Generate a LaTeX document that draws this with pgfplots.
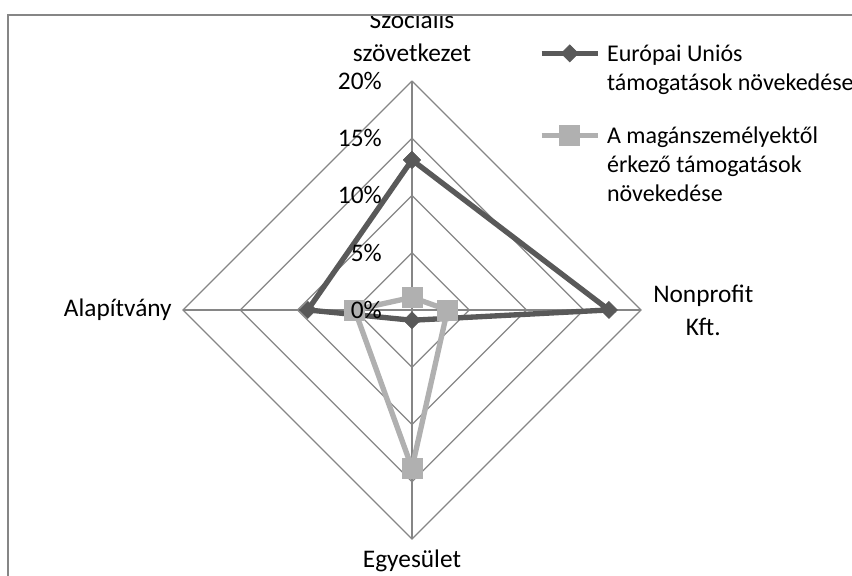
\documentclass[border=0pt]{standalone}
\usepackage{fontspec}
\setmainfont{Carlito}
\usepackage{pgfplots}
\pgfplotsset{compat=1.18}
\definecolor{gridgray}{HTML}{868686}
\definecolor{darkser}{HTML}{595959}
\definecolor{lightser}{HTML}{B0B0B0}
\begin{document}
\begin{tikzpicture}
\begin{axis}[
  x=8.5875pt, y=8.5875pt,
  xmin=-35.98, xmax=38.43, ymin=-23.23, ymax=27.07,
  hide axis, scale only axis, clip=false,
  legend style={at={(axis cs:11.1,23.4)}, anchor=north west, draw=none, fill=none,
    inner sep=0pt, outer sep=0pt, column sep=3pt, row sep=22pt,
    font=\fontsize{18}{21.75}\selectfont,
    cells={anchor=north west, align=left, inner sep=0pt}},
  legend image code/.code={\draw[mark repeat=2,mark phase=2,#1] plot coordinates {(0pt,-8.5pt)(21pt,-8.5pt)(42pt,-8.5pt)};},
]
% grid
\addplot[gridgray, line width=0.9pt, forget plot] coordinates {(0,5)(5,0)(0,-5)(-5,0)(0,5)};
\addplot[gridgray, line width=0.9pt, forget plot] coordinates {(0,10)(10,0)(0,-10)(-10,0)(0,10)};
\addplot[gridgray, line width=0.9pt, forget plot] coordinates {(0,15)(15,0)(0,-15)(-15,0)(0,15)};
\addplot[gridgray, line width=0.9pt, forget plot] coordinates {(0,20)(20,0)(0,-20)(-20,0)(0,20)};
\addplot[gridgray, line width=0.9pt, forget plot] coordinates {(0,-20)(0,20)};
\addplot[gridgray, line width=0.9pt, forget plot] coordinates {(-20,0)(20,0)};
% series
\addplot[darkser, line width=4pt, mark=square*, mark size=4.5pt,
  mark options={rotate=45, solid, line width=0.5pt}]
  coordinates {(0,13.1)(17.2,0)(0,-0.9)(-9.1,0)(0,13.1)};
\addlegendentry{Európai Uniós\\támogatások növekedése}
\addplot[lightser, line width=4pt, mark=square*, mark size=7.5pt,
  mark options={solid, line width=0.5pt}]
  coordinates {(0,1.1)(3.1,0)(0,-13.8)(-5.0,0)(0,1.1)};
\addlegendentry{A magánszemélyektől\\érkező támogatások\\növekedése}
% anchors for labels
\coordinate (t0) at (axis cs:-2.62,0);
\coordinate (t5) at (axis cs:-2.62,5);
\coordinate (t10) at (axis cs:-2.62,10);
\coordinate (t15) at (axis cs:-2.62,15);
\coordinate (t20) at (axis cs:-2.62,20);
\coordinate (ctop) at (axis cs:0,21.66);
\coordinate (cright) at (axis cs:21.05,0);
\coordinate (cleft) at (axis cs:-20.96,0);
\coordinate (cbot) at (axis cs:0,-22.45);
\coordinate (wa) at (axis cs:-36.5,25.76);
\coordinate (wb) at (axis cs:39,27.5);
\coordinate (ba) at (axis cs:39,25.76);
\coordinate (bb) at (axis cs:-35.28,25.76);
\coordinate (bc) at (axis cs:-35.28,-24);
\coordinate (bbsw) at (axis cs:-35.98,-23.23);
\coordinate (bbne) at (axis cs:38.43,27.07);
\end{axis}
% tick labels
\node[anchor=east, inner sep=0pt, font=\fontsize{19}{22}\selectfont] at (t0) {0\%};
\node[anchor=east, inner sep=0pt, font=\fontsize{19}{22}\selectfont] at (t5) {5\%};
\node[anchor=east, inner sep=0pt, font=\fontsize{19}{22}\selectfont] at (t10) {10\%};
\node[anchor=east, inner sep=0pt, font=\fontsize{19}{22}\selectfont] at (t15) {15\%};
\node[anchor=east, inner sep=0pt, font=\fontsize{19}{22}\selectfont] at (t20) {20\%};
% category labels
\node[anchor=south, inner sep=0pt, align=center, font=\fontsize{19}{24.75}\selectfont] at (ctop) {Szociális\\szövetkezet};
\node[anchor=west, inner sep=0pt, align=center, font=\fontsize{19}{24.75}\selectfont] at (cright) {Nonprofit\\Kft.};
\node[anchor=east, inner sep=0pt, font=\fontsize{19}{24.75}\selectfont] at (cleft) {Alapítvány};
\node[anchor=base, inner sep=0pt, font=\fontsize{19}{24.75}\selectfont] at (cbot) {Egyesület};
% clip top and border
\fill[white] (wa) rectangle (wb);
\draw[gridgray, line width=1.5pt] (ba) -- (bb) -- (bc);
\pgfresetboundingbox
\path (bbsw) rectangle (bbne);
\end{tikzpicture}
\end{document}
